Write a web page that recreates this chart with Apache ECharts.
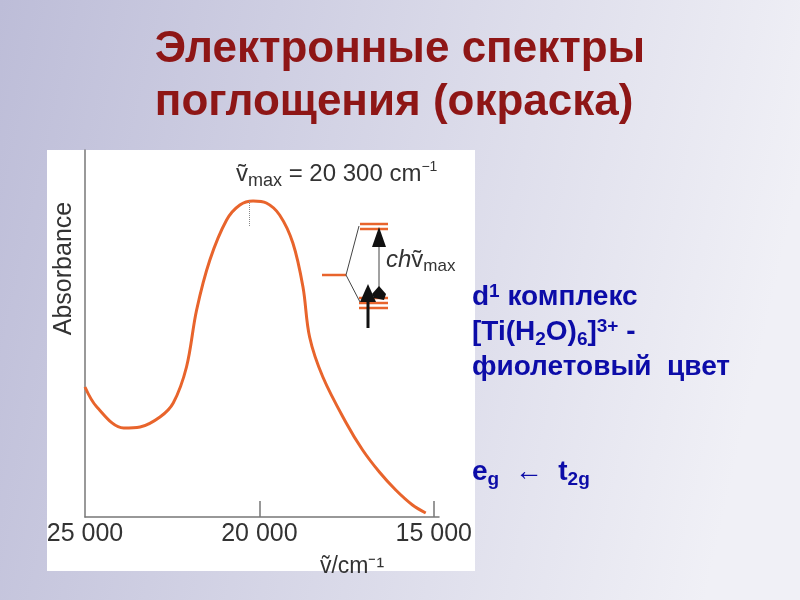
<!DOCTYPE html>
<html>
<head>
<meta charset="utf-8">
<script src="https://cdn.jsdelivr.net/npm/echarts@6/dist/echarts.min.js"></script>
<style>
html,body{margin:0;padding:0;}
#chart{width:800px;height:600px;}
</style>
</head>
<body>
<div id="chart"></div>
<script>
// spectrum: wavenumber (cm-1) and absorbance (arb.)
var wavenumbers = [25000, 24660, 23890, 23420, 22850, 22470, 22090, 21800, 21420, 20940, 20560, 20180, 19800, 19420, 19040, 18750, 18560, 18180, 17510, 17040, 16560, 16090, 15610, 15230];
var absorbance = [130, 110, 89, 90, 100, 114, 150, 207, 257, 297, 312, 316, 314, 302, 274, 230, 180, 140, 94, 67, 45, 27, 12, 4];
var tickValues = [25000, 20000, 15000];
var tickLabels = ['25 000', '20 000', '15 000'];

var chart = echarts.init(document.getElementById('chart'));
var font = '"Liberation Sans", Arial, sans-serif';
var orange = '#e8642c';

var points = wavenumbers.map(function (w, i) { return [w, absorbance[i]]; });

chart.setOption({
	animation: false,
	grid: { left: 85, right: 361, top: 150, bottom: 83 },
	xAxis: {
		type: 'value', inverse: true, min: 14850, max: 25000,
		axisLine: { lineStyle: { color: '#777', width: 1.5 } },
		splitLine: { show: false },
		axisTick: { inside: true, length: 16, customValues: [20000, 15000], lineStyle: { color: '#777', width: 1.5 } },
		axisLabel: {
			customValues: tickValues, color: '#333', fontSize: 25, fontFamily: font, margin: 5,
			formatter: function (v) { return tickLabels[tickValues.indexOf(v)]; }
		},
		name: 'ṽ/cm⁻¹', nameLocation: 'middle', nameGap: 38,
		nameTextStyle: { color: '#333', fontSize: 23, fontFamily: font, padding: [0, 0, 0, 180] }
	},
	yAxis: {
		type: 'value', min: 0, max: 367,
		axisLine: { show: true, lineStyle: { color: '#777', width: 1.5 } },
		axisTick: { show: false }, axisLabel: { show: false }, splitLine: { show: false },
		name: 'Absorbance', nameLocation: 'middle', nameGap: 8, nameRotate: 90,
		nameTextStyle: { color: '#333', fontSize: 25, fontFamily: font, padding: [0, 0, 0, 130] }
	},
	series: [{
		type: 'line', smooth: 0.35, data: points, symbol: 'none',
		lineStyle: { color: orange, width: 3 },
		markLine: {
			silent: true, symbol: 'none', label: { show: false },
			lineStyle: { color: '#888', type: 'dotted', width: 1 },
			data: [[{ coord: [20300, 316] }, { coord: [20300, 290] }]]
		}
	}],
	graphic: [
		{ type: 'rect', z: -10, shape: { x: 0, y: 0, width: 800, height: 600 },
		  style: { fill: new echarts.graphic.LinearGradient(0, 0, 1, 0.3, [{ offset: 0, color: '#bdbdd8' }, { offset: 1, color: '#f0f0f6' }]) } },
		{ type: 'rect', z: -9, shape: { x: 47, y: 150, width: 428, height: 421 }, style: { fill: '#fff' } },
		{ type: 'text', left: 'center', top: 23, style: {
			text: 'Электронные спектры\nпоглощения (окраска)', fill: '#8e1616', align: 'center',
			font: 'bold 44px ' + font, lineHeight: 53 } },
		{ type: 'text', x: 236, y: 158, style: {
			text: '{n|ṽ}{s|max}{n| = 20 300 cm}{u|−1}',
			rich: {
				n: { fontSize: 24, fontFamily: font, fill: '#333' },
				s: { fontSize: 18, fontFamily: font, fill: '#333', padding: [14, 0, 0, 0] },
				u: { fontSize: 14, fontFamily: font, fill: '#333', padding: [0, 0, 14, 0] }
			} } },
		// energy level diagram
		{ type: 'line', shape: { x1: 322, y1: 275, x2: 346, y2: 275 }, style: { stroke: orange, lineWidth: 2.5 } },
		{ type: 'line', shape: { x1: 360, y1: 224, x2: 388, y2: 224 }, style: { stroke: orange, lineWidth: 2.5 } },
		{ type: 'line', shape: { x1: 360, y1: 229, x2: 388, y2: 229 }, style: { stroke: orange, lineWidth: 2.5 } },
		{ type: 'line', shape: { x1: 359, y1: 298, x2: 388, y2: 298 }, style: { stroke: orange, lineWidth: 2.5 } },
		{ type: 'line', shape: { x1: 359, y1: 303, x2: 388, y2: 303 }, style: { stroke: orange, lineWidth: 2.5 } },
		{ type: 'line', shape: { x1: 359, y1: 308, x2: 388, y2: 308 }, style: { stroke: orange, lineWidth: 2.5 } },
		{ type: 'line', shape: { x1: 346, y1: 275, x2: 359, y2: 226 }, style: { stroke: '#444', lineWidth: 1 } },
		{ type: 'line', shape: { x1: 346, y1: 275, x2: 360, y2: 302 }, style: { stroke: '#444', lineWidth: 1 } },
		{ type: 'line', shape: { x1: 379, y1: 240, x2: 379, y2: 296 }, style: { stroke: '#444', lineWidth: 1 } },
		{ type: 'polygon', shape: { points: [[379, 227], [372, 247], [386, 247]] }, style: { fill: '#111' } },
		{ type: 'polygon', shape: { points: [[379, 286], [386, 294], [384, 300], [374, 298], [372, 294]] }, style: { fill: '#111' } },
		{ type: 'line', shape: { x1: 368, y1: 296, x2: 368, y2: 328 }, style: { stroke: '#111', lineWidth: 3 } },
		{ type: 'polygon', shape: { points: [[368, 284], [360, 302], [376, 302]] }, style: { fill: '#111' } },
		{ type: 'text', x: 386, y: 246, style: {
			text: '{i|ch}{n|ṽ}{s|max}',
			rich: {
				i: { fontSize: 24, fontFamily: font, fontStyle: 'italic', fill: '#333' },
				n: { fontSize: 24, fontFamily: font, fill: '#333' },
				s: { fontSize: 17, fontFamily: font, fill: '#333', padding: [12, 0, 0, 0] }
			} } },
		// right-hand notes
		{ type: 'text', x: 472, y: 280, style: {
			text: '{b|d}{p|1}{b| комплекс}\n{b|[Ti(H}{d|2}{b|O)}{d|6}{b|]}{p|3+}{b| -}\n{b|фиолетовый  цвет}\n{b| }\n{b| }\n{b|e}{d|g}{b|  ←  t}{d|2g}',
			rich: {
				b: { fontSize: 28, fontWeight: 'bold', fontFamily: font, fill: '#0c0ca8', lineHeight: 35 },
				p: { fontSize: 19, fontWeight: 'bold', fontFamily: font, fill: '#0c0ca8', padding: [0, 0, 12, 0], lineHeight: 35 },
				d: { fontSize: 19, fontWeight: 'bold', fontFamily: font, fill: '#0c0ca8', padding: [14, 0, 0, 0], lineHeight: 35 }
			} } }
	]
});
</script>
</body>
</html>
